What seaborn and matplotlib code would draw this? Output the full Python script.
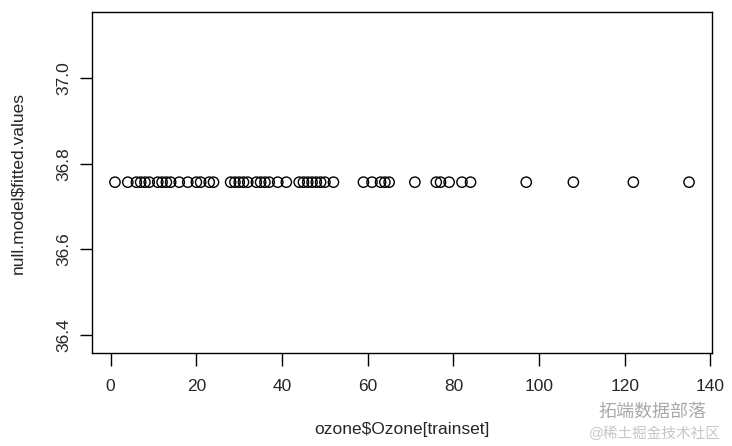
import matplotlib
matplotlib.use("Agg")
import matplotlib.pyplot as plt
import seaborn as sns
import numpy as np
import pandas as pd

# Data
ozone = [1, 4, 6, 7, 8, 9, 11, 12, 13, 14, 16, 18, 20, 21, 23, 24,
         28, 29, 30, 31, 32, 34, 35, 36, 37, 39, 41, 44, 45, 46, 47, 48,
         49, 50, 52, 59, 61, 63, 64, 65, 71, 76, 77, 79, 82, 84, 97, 108,
         122, 135]
fitted_value = 36.75676
fitted = [fitted_value] * len(ozone)
x_ticks = [0, 20, 40, 60, 80, 100, 120, 140]
y_ticks = [36.4, 36.6, 36.8, 37.0]
y_tick_labels = ["36.4", "36.6", "36.8", "37.0"]

sns.set_style("white")
plt.rcParams['font.family'] = ['Liberation Sans', 'Noto Sans CJK SC', 'DejaVu Sans']

fig = plt.figure(figsize=(7.32, 4.46), dpi=100)
ax = fig.add_axes([92/732, 1-353/446, (712-92)/732, (353-12)/446])

df = pd.DataFrame({"x": ozone, "y": fitted})
sns.scatterplot(data=df, x="x", y="y", ax=ax, marker="o", s=55,
                facecolors="none", edgecolor="black", linewidth=1.0)

ax.set_xlim(-4.36, 140.36)
ax.set_ylim(36.357, 37.155)
ax.set_xticks(x_ticks)
ax.set_xticklabels([str(t) for t in x_ticks], fontsize=12.5)
ax.set_yticks(y_ticks)
ax.set_yticklabels(y_tick_labels, fontsize=12.5, rotation=90, va="center")
ax.tick_params(axis="both", direction="out", length=9, width=1.0, color="black",
               bottom=True, left=True, pad=10)
ax.tick_params(axis="y", pad=6)
for sp in ax.spines.values():
    sp.set_color("black")
    sp.set_linewidth(1.0)
ax.set_xlabel("ozone$Ozone[trainset]", fontsize=12.5, labelpad=20)
ax.set_ylabel("null.model$fitted.values", fontsize=12.5, labelpad=22)

# watermark as in the reference
fig.text(0.965, 1-412/446, "拓端数据部落", fontsize=13, color="#9a9a9a",
         alpha=0.85, ha="right", va="center")
fig.text(0.985, 1-434/446, "@稀土掘金技术社区", fontsize=10.5, color="#bdbdbd",
         alpha=0.85, ha="right", va="center")

fig.savefig("out.png", dpi=100, facecolor="white")
